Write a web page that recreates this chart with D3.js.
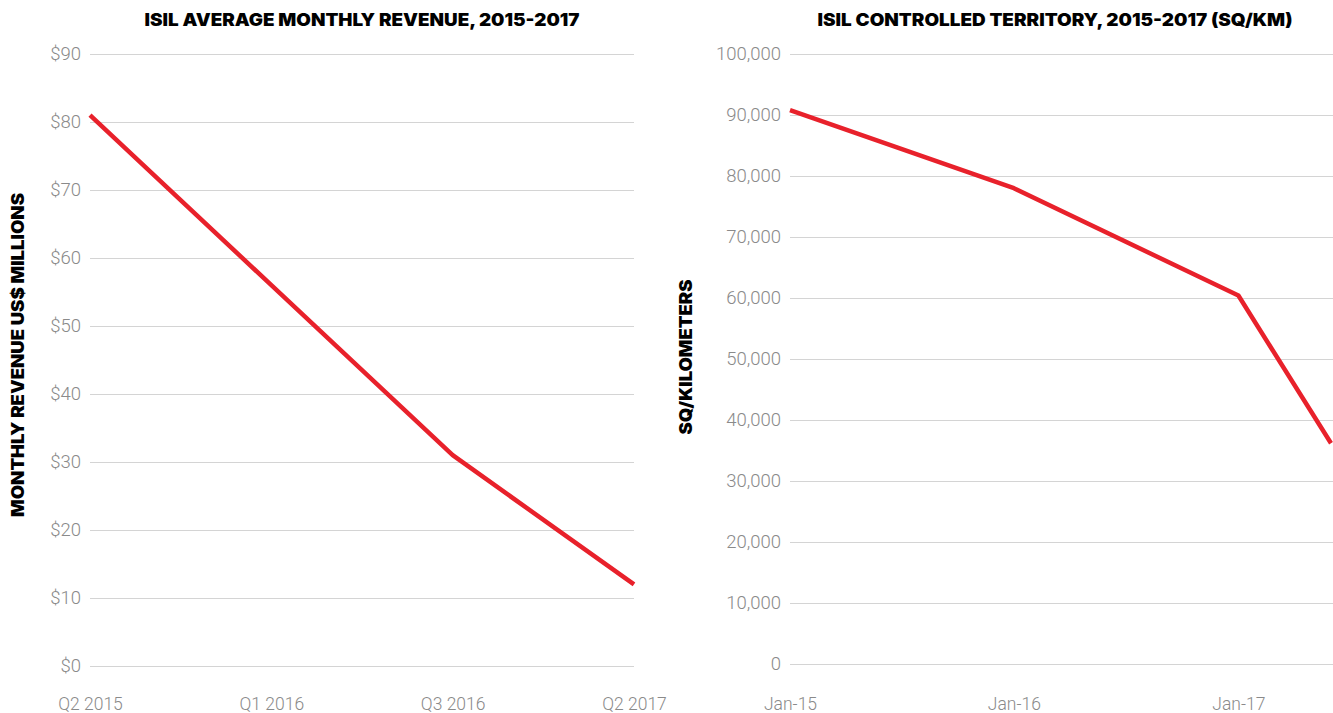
<!DOCTYPE html>
<html>
<head>
<meta charset="utf-8">
<script src="https://cdn.jsdelivr.net/npm/d3@7"></script>
<style>
  html, body { margin: 0; padding: 0; background: #fff; }
  svg { display: block; }
  .tick text { font-family: Roboto, "Noto Sans", sans-serif; font-weight: 300; fill: #8a8a8a; }
</style>
</head>
<body>
<svg id="chart" width="1333" height="713"></svg>
<script>
// ---- Data ----
const revenueCategories = ["Q2 2015", "Q1 2016", "Q3 2016", "Q2 2017"];
const revenueValues = [81, 56, 31, 12];
const revenueTicks = [0, 10, 20, 30, 40, 50, 60, 70, 80, 90];

const territoryDates = ["2015-01-01", "2016-01-01", "2017-01-01", "2017-06-01"];
const territoryValues = [90800, 78000, 60400, 36200];
const territoryTicks = [0, 10000, 20000, 30000, 40000, 50000, 60000, 70000, 80000, 90000, 100000];
const territoryTickDates = ["2015-01-01", "2016-01-01", "2017-01-01"];

const svg = d3.select("#chart");
const RED = "#e8212b";
const GRID = "#d4d4d4";
const TITLE_FONT = "Inter, Roboto, 'Noto Sans', sans-serif";

function boldText(g, txt, size, len) {
  return g.append("text")
    .attr("text-anchor", "middle")
    .attr("font-family", TITLE_FONT).attr("font-weight", 900).attr("font-size", size)
    .attr("fill", "#000")
    .attr("textLength", len).attr("lengthAdjust", "spacingAndGlyphs")
    .text(txt);
}

// ---- Left chart ----
{
  const x = d3.scalePoint().domain(revenueCategories).range([90, 634]);
  const y = d3.scaleLinear().domain([0, 90]).range([666, 54]);
  const g = svg.append("g");

  const yAxis = d3.axisLeft(y).tickValues(revenueTicks).tickFormat(d => "$" + d)
    .tickSize(-(634 - 90)).tickPadding(9);
  const ya = g.append("g").attr("transform", "translate(90,0)").call(yAxis);
  ya.select(".domain").remove();
  ya.selectAll(".tick line").attr("stroke", GRID).attr("stroke-width", 1.2);
  ya.selectAll(".tick text").attr("font-size", 18.5);

  const xAxis = d3.axisBottom(x).tickSize(0).tickPadding(0);
  const xa = g.append("g").attr("transform", "translate(0,704)").call(xAxis);
  xa.select(".domain").remove();
  xa.selectAll(".tick text").attr("font-size", 17.5).attr("dy", "0.35em");

  const line = d3.line().x((d, i) => x(revenueCategories[i])).y(d => y(d));
  g.append("path").datum(revenueValues).attr("d", line)
    .attr("fill", "none").attr("stroke", RED).attr("stroke-width", 4.5)
    .attr("stroke-linejoin", "round");

  boldText(g, "ISIL AVERAGE MONTHLY REVENUE, 2015-2017", 17.5, 435)
    .attr("x", 362).attr("y", 26);

  boldText(g, "MONTHLY REVENUE US$ MILLIONS", 17, 324)
    .attr("transform", "translate(24,355) rotate(-90)");
}

// ---- Right chart ----
{
  const parse = d3.timeParse("%Y-%m-%d");
  const dates = territoryDates.map(parse);
  const x = d3.scaleTime().domain(d3.extent(dates)).range([790, 1331]);
  const y = d3.scaleLinear().domain([0, 100000]).range([664, 54]);
  const g = svg.append("g");

  const yAxis = d3.axisLeft(y).tickValues(territoryTicks).tickFormat(d3.format(","))
    .tickSize(-(1333 - 790)).tickPadding(9);
  const ya = g.append("g").attr("transform", "translate(790,0)").call(yAxis);
  ya.select(".domain").remove();
  ya.selectAll(".tick line").attr("stroke", GRID).attr("stroke-width", 1.2);
  ya.selectAll(".tick text").attr("font-size", 18.5);

  const xAxis = d3.axisBottom(x).tickValues(territoryTickDates.map(parse))
    .tickFormat(d3.timeFormat("%b-%y")).tickSize(0).tickPadding(0);
  const xa = g.append("g").attr("transform", "translate(0,704)").call(xAxis);
  xa.select(".domain").remove();
  xa.selectAll(".tick text").attr("font-size", 17.5).attr("dy", "0.35em");

  const line = d3.line().x((d, i) => x(dates[i])).y(d => y(d));
  g.append("path").datum(territoryValues).attr("d", line)
    .attr("fill", "none").attr("stroke", RED).attr("stroke-width", 4.5)
    .attr("stroke-linejoin", "round");

  boldText(g, "ISIL CONTROLLED TERRITORY, 2015-2017 (SQ/KM)", 17.5, 475)
    .attr("x", 1055).attr("y", 26);

  boldText(g, "SQ/KILOMETERS", 17, 155)
    .attr("transform", "translate(692,357) rotate(-90)");
}
</script>
</body>
</html>
